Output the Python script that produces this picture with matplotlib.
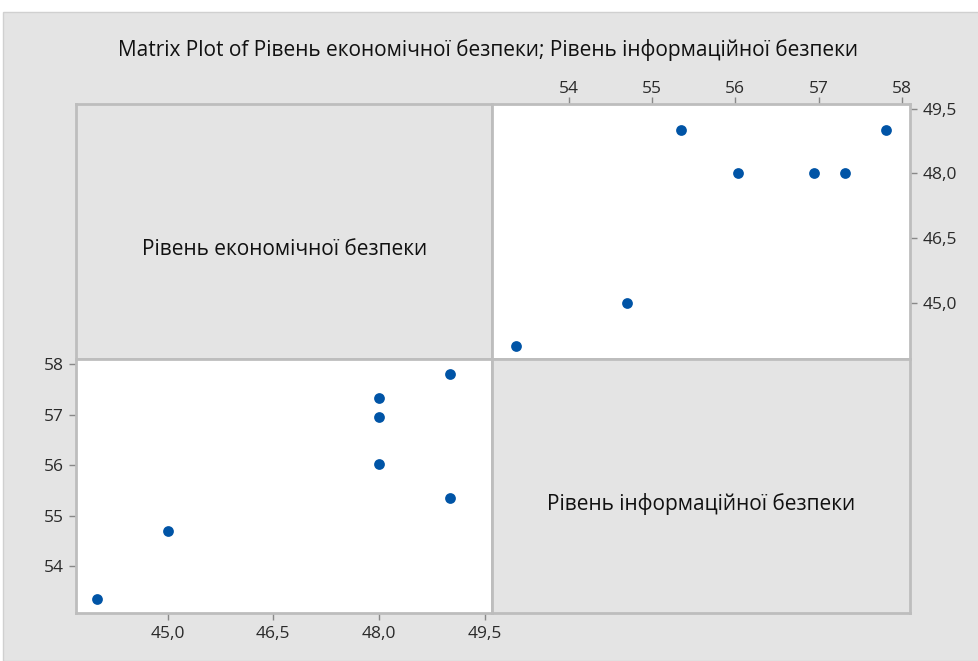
import matplotlib
matplotlib.use("Agg")
import matplotlib.pyplot as plt
from matplotlib.patches import Rectangle

# data (economic vs information security level)
econ = [44.0, 45.0, 48.0, 48.0, 48.0, 49.0, 49.0]
info = [53.36, 54.70, 56.03, 56.95, 57.32, 57.81, 55.35]

econ_ticks = [45.0, 46.5, 48.0, 49.5]
info_ticks = [54, 55, 56, 57, 58]
econ_lim = (43.70, 49.61)
info_lim = (53.08, 58.10)

title = "Matrix Plot of Рівень економічної безпеки; Рівень інформаційної безпеки"
econ_name = "Рівень економічної безпеки"
info_name = "Рівень інформаційної безпеки"

BG = "#e4e4e4"
EDGE = "#bdbdbd"
DOT = "#0054a6"
plt.rcParams["font.family"] = ["Open Sans", "DejaVu Sans"]

W, H = 979, 661
fig = plt.figure(figsize=(W / 100, H / 100), dpi=100)
fig.patch.set_facecolor("white")
fig.add_artist(Rectangle((3 / W, 0), 1 - 3 / W, 1 - 12 / H, transform=fig.transFigure,
                         facecolor=BG, edgecolor="#d0d0d0", lw=1, zorder=-5))

x0, xm, x1 = 76 / W, 492.5 / W, 910 / W
y0, ym, y1 = 1 - 613 / H, 1 - 359 / H, 1 - 104 / H

ax_tl = fig.add_axes([x0, ym, xm - x0, y1 - ym])
ax_tr = fig.add_axes([xm, ym, x1 - xm, y1 - ym])
ax_bl = fig.add_axes([x0, y0, xm - x0, ym - y0])
ax_br = fig.add_axes([xm, y0, x1 - xm, ym - y0])


def fmt_comma(vals, nd):
    return [f"{v:.{nd}f}".replace(".", ",") for v in vals]


for ax in (ax_tl, ax_tr, ax_bl, ax_br):
    for s in ax.spines.values():
        s.set_color(EDGE)
        s.set_linewidth(2)
    ax.tick_params(colors="#888888", labelcolor="#2a2a2a", labelsize=12.5,
                   length=5, width=1, pad=4)

# diagonal label panels
for ax, name in ((ax_tl, econ_name), (ax_br, info_name)):
    ax.set_facecolor(BG)
    ax.set_xticks([])
    ax.set_yticks([])
    ax.text(0.5, 0.43, name, transform=ax.transAxes, ha="center", va="center",
            fontsize=15, color="#111111")

# top-right: econ vs info
ax_tr.set_facecolor("white")
ax_tr.scatter(info, econ, s=60, color=DOT, zorder=3, linewidths=0)
ax_tr.set_xlim(*info_lim)
ax_tr.set_ylim(*econ_lim)
ax_tr.set_xticks(info_ticks)
ax_tr.set_xticklabels([str(v) for v in info_ticks])
ax_tr.set_yticks(econ_ticks)
ax_tr.set_yticklabels(fmt_comma(econ_ticks, 1))
ax_tr.xaxis.tick_top()
ax_tr.yaxis.tick_right()
ax_tr.tick_params(axis="x", pad=0)

# bottom-left: info vs econ
ax_bl.set_facecolor("white")
ax_bl.scatter(econ, info, s=60, color=DOT, zorder=3, linewidths=0)
ax_bl.set_xlim(*econ_lim)
ax_bl.set_ylim(*info_lim)
ax_bl.set_xticks(econ_ticks)
ax_bl.set_xticklabels(fmt_comma(econ_ticks, 1))
ax_bl.set_yticks(info_ticks)
ax_bl.set_yticklabels([str(v) for v in info_ticks])

fig.text(488 / W, 1 - 50 / H, title, ha="center", va="center", fontsize=15,
         color="#111111")

fig.savefig("out.png", dpi=100)
